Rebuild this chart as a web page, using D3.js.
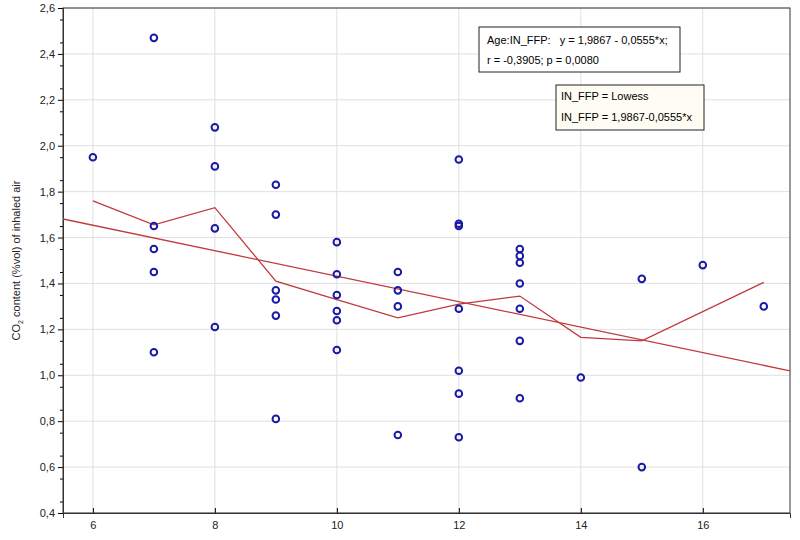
<!DOCTYPE html>
<html><head><meta charset="utf-8">
<script src="https://cdn.jsdelivr.net/npm/d3@7"></script>
<style>body{margin:0;background:#fff}text{font-family:"Liberation Sans",Arial,sans-serif;white-space:pre}</style>
</head><body><svg id="c" width="800" height="540"></svg>
<script>
const xTicks = [6, 8, 10, 12, 14, 16];
const yTicks = [0.4, 0.6, 0.8, 1.0, 1.2, 1.4, 1.6, 1.8, 2.0, 2.2, 2.4, 2.6];
const ptsX = [6, 7,7,7,7,7, 8,8,8,8, 9,9,9,9,9,9, 10,10,10,10,10,10, 11,11,11,11,
  12,12,12,12,12,12,12, 13,13,13,13,13,13,13, 14, 15,15, 16, 17];
const ptsY = [1.95, 2.47,1.65,1.55,1.45,1.10, 2.08,1.91,1.64,1.21, 1.83,1.70,1.37,1.33,1.26,0.81,
  1.58,1.44,1.35,1.28,1.24,1.11, 1.45,1.37,1.30,0.74, 1.94,1.66,1.65,1.29,1.02,0.92,0.73,
  1.55,1.52,1.49,1.40,1.29,1.15,0.90, 0.99, 1.42,0.60, 1.48, 1.30];
const lowessX = [6, 7, 8, 9, 10, 11, 12, 13, 14, 15, 17];
const lowessY = [1.76, 1.655, 1.73, 1.41, 1.33, 1.25, 1.31, 1.345, 1.165, 1.15, 1.405];
const intercept = 1.9867, slope = -0.0555;

const svg = d3.select("#c");
const L = 63, R = 790, T = 8, B = 513;
const x = d3.scaleLinear().domain([5.51, 17.43]).range([L, R]);
const y = d3.scaleLinear().domain([0.4, 2.6]).range([B, T]);

// grid
svg.append("g").selectAll("line").data(xTicks).enter().append("line")
  .attr("x1", d => x(d)).attr("x2", d => x(d)).attr("y1", T).attr("y2", B).attr("stroke", "#e0e0e0");
svg.append("g").selectAll("line").data(yTicks).enter().append("line")
  .attr("x1", L).attr("x2", R).attr("y1", d => y(d)).attr("y2", d => y(d)).attr("stroke", "#e0e0e0");

// axes
const ax = svg.append("g").attr("transform", `translate(0,${B})`)
  .call(d3.axisBottom(x).tickValues(xTicks).tickFormat(d3.format("d")).tickSize(5));
const ay = svg.append("g").attr("transform", `translate(${L},0)`)
  .call(d3.axisLeft(y).tickValues(yTicks).tickFormat(d => d3.format(".1f")(d).replace(".", ",")).tickSize(5));
svg.append("g").attr("transform", `translate(${L},0)`)
  .call(d3.axisLeft(y).tickValues(d3.range(0.45, 2.6, 0.1)).tickFormat("").tickSize(3))
  .select(".domain").remove();
[ax, ay].forEach(a => { a.selectAll("text").attr("font-size", 11).attr("fill", "#222"); a.select(".domain").attr("stroke", "#333"); });
ax.selectAll("line").attr("y2", -5);
svg.append("rect").attr("x", L).attr("y", T).attr("width", R - L).attr("height", B - T)
  .attr("fill", "none").attr("stroke", "#333");

svg.append("text").attr("transform", `translate(20,${(T + B) / 2}) rotate(-90)`)
  .attr("text-anchor", "middle").attr("font-size", 11).attr("fill", "#222")
  .html('CO<tspan font-size="7" dy="3">2</tspan><tspan dy="-3"> content (%vol) of inhaled air</tspan>');

// lines
svg.append("clipPath").attr("id", "cp").append("rect")
  .attr("x", L).attr("y", T).attr("width", R - L).attr("height", B - T);
const dom = x.domain();
svg.append("line").attr("clip-path", "url(#cp)")
  .attr("x1", x(dom[0])).attr("y1", y(intercept + slope * dom[0]))
  .attr("x2", x(dom[1])).attr("y2", y(intercept + slope * dom[1]))
  .attr("stroke", "#c0393b").attr("stroke-width", 1.3);
svg.append("path").datum(lowessX.map((d, i) => [d, lowessY[i]]))
  .attr("d", d3.line().x(d => x(d[0])).y(d => y(d[1])))
  .attr("fill", "none").attr("stroke", "#c0393b").attr("stroke-width", 1.3);

// points
svg.append("g").selectAll("circle").data(ptsX).enter().append("circle")
  .attr("cx", d => x(d)).attr("cy", (d, i) => y(ptsY[i])).attr("r", 3.3)
  .attr("fill", "none").attr("stroke", "#1a1aa6").attr("stroke-width", 2);

// legend boxes
const b1 = svg.append("g").attr("transform", "translate(479,27)");
b1.append("rect").attr("width", 201).attr("height", 45).attr("fill", "#fff").attr("stroke", "#222");
b1.append("text").attr("x", 8).attr("y", 17).attr("font-size", 11).text("Age:IN_FFP:   y = 1,9867 - 0,0555*x;");
b1.append("text").attr("x", 8).attr("y", 37).attr("font-size", 11).text("r = -0,3905; p = 0,0080");
const b2 = svg.append("g").attr("transform", "translate(556,85)");
b2.append("rect").attr("width", 148).attr("height", 45).attr("fill", "#fffdf3").attr("stroke", "#222");
b2.append("text").attr("x", 5).attr("y", 15).attr("font-size", 11).text("IN_FFP = Lowess");
b2.append("text").attr("x", 5).attr("y", 36).attr("font-size", 11).text("IN_FFP = 1,9867-0,0555*x");
</script></body></html>
